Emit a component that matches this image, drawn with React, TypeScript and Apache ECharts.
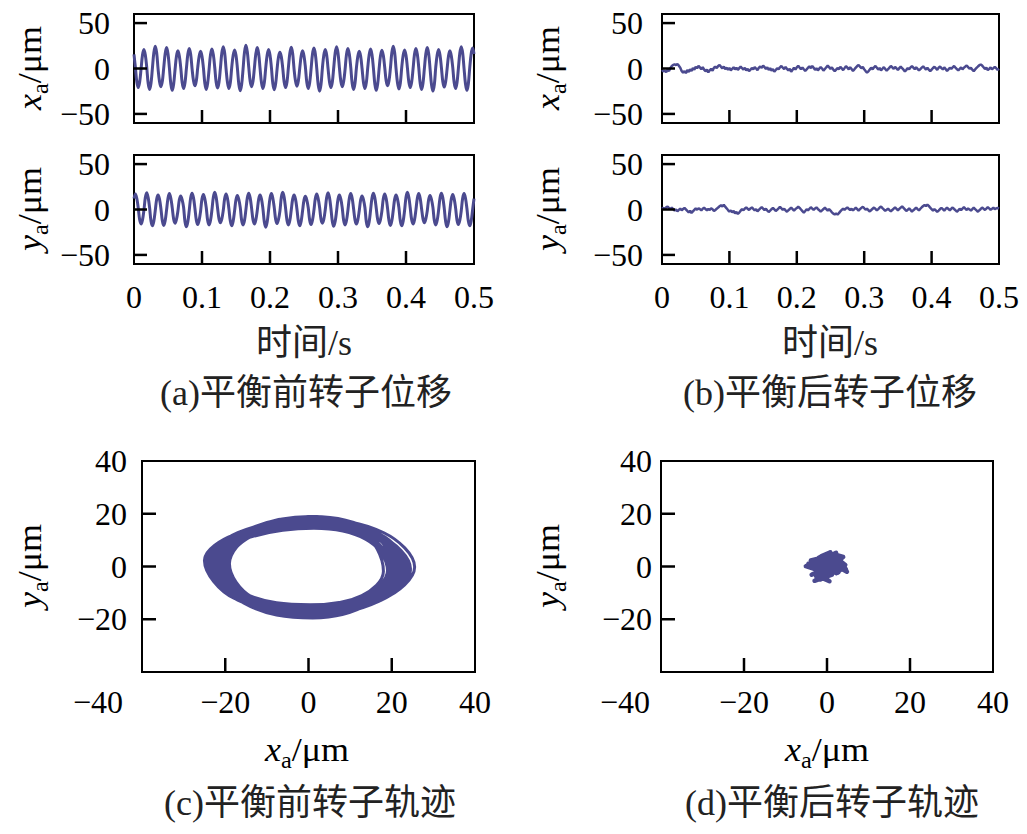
import React, { useEffect, useRef } from 'react';
import * as echarts from 'echarts';

// ---- data ----
// before balancing, sampled every 1/480 s (0 .. 0.5 s)
const DT_BEFORE = 1 / 480;
const X_BEFORE = [
  15.6, 0.8, -14.9, -21, -14.9, -0.5, 14.9, 21,
  14.9, 1.2, -16.3, -23, -16.3, 0.4, 17.4, 24.5,
  17.4, -0.6, -14.2, -20, -14.2, 0.9, 16.3, 23,
  16.3, 0.3, -17.0, -24, -17.0, -0.8, 13.8, 19.5,
  13.8, 1.0, -15.6, -22, -15.6, 0.2, 15.6, 22,
  15.6, -0.4, -13.5, -19, -13.5, 1.3, 13.5, 19,
  13.5, 0.6, -16.3, -23, -16.3, -0.9, 15.3, 21.5,
  15.3, 1.1, -15.3, -21.5, -15.3, 0.5, 17.0, 24,
  17.0, -0.7, -15.6, -22, -15.6, 1.4, 14.6, 20.5,
  14.6, 0.2, -17.4, -24.5, -17.4, -0.3, 18.1, 25.5,
  18.1, 1.5, -14.2, -20, -14.2, 0.7, 16.3, 23,
  16.3, -0.2, -15.6, -22, -15.6, 1.0, 14.9, 21,
  14.9, 0.9, -16.7, -23.5, -16.7, -0.6, 12.8, 18,
  12.8, 0.4, -14.9, -21, -14.9, 1.2, 16.7, 23.5,
  16.7, -0.9, -13.8, -19.5, -13.8, 0.3, 13.8, 19.5,
  13.8, 1.3, -15.6, -22, -15.6, -0.4, 16.0, 22.5,
  16.0, 0.1, -17.8, -25, -17.8, 0.8, 14.9, 21,
  14.9, -0.5, -14.9, -21, -14.9, 1.1, 17.0, 24,
  17.0, 0.7, -14.2, -20, -14.2, -1.0, 15.6, 22,
  15.6, 1.4, -16.3, -23, -16.3, 0.6, 13.5, 19,
  13.5, -0.3, -15.6, -22, -15.6, 0.9, 15.3, 21.5,
  15.3, 0.5, -17.0, -24, -17.0, -0.7, 14.2, 20,
  14.2, 1.0, -13.5, -19, -13.5, 0.4, 17.4, 24.5,
  17.4, -0.8, -16.0, -22.5, -16.0, 1.2, 14.6, 20.5,
  14.6, 0.6, -14.9, -21, -14.9, -0.2, 15.6, 22,
  15.6, 1.1, -16.3, -23, -16.3, 0.3, 16.3, 23,
  16.3, -0.4, -17.8, -25, -17.8, 1.4, 14.9, 21,
  14.9, 0.8, -14.6, -20.5, -14.6, -0.6, 13.8, 19.5,
  13.8, 1.2, -15.6, -22, -15.6, 0.5, 17.0, 24,
  17.0, -0.3, -17.0, -24, -17.0, 0.9, 16.0, 22.5,
  16.0,
];
const Y_BEFORE = [
  12.1, 17, 12.1, 1.6, -11.4, -16, -11.4, -0.8,
  13.1, 18.5, 13.1, 2.2, -12.8, -18, -12.8, -1.3,
  11.4, 16, 11.4, 0.9, -12.4, -17.5, -12.4, -0.4,
  12.4, 17.5, 12.4, 1.8, -10.7, -15, -10.7, -1.6,
  10.7, 15, 10.7, 2.5, -13.5, -19, -13.5, -0.9,
  12.8, 18, 12.8, 1.2, -11.7, -16.5, -11.7, -1.9,
  11.7, 16.5, 11.7, 2.0, -12.1, -17, -12.1, -0.6,
  13.5, 19, 13.5, 1.4, -10.3, -14.5, -10.3, -1.1,
  12.1, 17, 12.1, 0.7, -12.8, -18, -12.8, -1.5,
  11.0, 15.5, 11.0, 2.3, -12.1, -17, -12.1, -0.2,
  12.8, 18, 12.8, 1.5, -11.4, -16, -11.4, -1.2,
  11.4, 16, 11.4, 1.0, -13.8, -19.5, -13.8, -0.7,
  12.4, 17.5, 12.4, 2.1, -11.0, -15.5, -11.0, -1.8,
  13.5, 19, 13.5, 1.3, -12.1, -17, -12.1, -0.5,
  11.4, 16, 11.4, 0.6, -12.8, -18, -12.8, -1.4,
  10.3, 14.5, 10.3, 1.9, -11.7, -16.5, -11.7, -1.0,
  12.1, 17, 12.1, 2.4, -10.7, -15, -10.7, -0.3,
  13.1, 18.5, 13.1, 1.1, -13.1, -18.5, -13.1, -1.7,
  11.4, 16, 11.4, 1.7, -12.1, -17, -12.1, -0.8,
  12.4, 17.5, 12.4, 0.8, -11.4, -16, -11.4, -1.3,
  10.7, 15, 10.7, 2.2, -13.5, -19, -13.5, -0.6,
  12.8, 18, 12.8, 1.4, -11.0, -15.5, -11.0, -1.5,
  12.1, 17, 12.1, 1.0, -12.4, -17.5, -12.4, -0.9,
  11.4, 16, 11.4, 2.0, -12.8, -18, -12.8, -1.1,
  13.5, 19, 13.5, 1.6, -11.4, -16, -11.4, -0.4,
  12.4, 17.5, 12.4, 0.9, -10.3, -14.5, -10.3, -1.6,
  11.0, 15.5, 11.0, 2.3, -12.1, -17, -12.1, -1.0,
  12.8, 18, 12.8, 1.2, -13.5, -19, -13.5, -0.7,
  11.7, 16.5, 11.7, 1.8, -11.7, -16.5, -11.7, -1.4,
  12.4, 17.5, 12.4, 1.1, -12.8, -18, -12.8, -0.5,
  12.0,
];

// after balancing, sampled every 1/480 s (0 .. 0.5 s)
const DT_AFTER = 1 / 480;
const X_AFTER = [
  -1.5, -3.3, -2.2, -3.9, -1.2, -2.8, 0.6, 2.7, 4.0, 4.6,
  3.8, 4.8, 3.1, 0.9, -2.7, -4.6, -3.0, -5.1, -1.8, -3.7,
  -0.9, -2.6, 0.4, -1.3, 1.8, 0.3, 2.8, 1.2, -0.8, 1.5,
  -1.2, -3.1, -1.3, -4.2, -2.0, -0.3, -2.4, 0.8, 2.1, 0.4,
  2.7, 3.9, 1.8, 0.2, 2.2, -0.6, 1.0, -1.3, 0.6, -2.0,
  -0.3, 1.3, -1.0, 0.9, -1.6, 0.4, 2.1, 0.3, -1.2, 0.8,
  -2.1, -0.4, -3.0, -1.3, 0.6, -0.9, 1.6, 0.0, -1.8, 0.9,
  2.2, 0.6, 3.3, 1.5, -0.4, 1.2, -1.5, 0.3, -2.4, -0.8,
  -3.4, -1.6, 0.3, -1.0, 1.3, 2.7, 0.9, -0.6, 1.8, -0.4,
  -2.2, -0.3, -3.6, -1.5, 0.8, -1.2, 1.3, 3.0, 1.0, -0.9,
  1.2, -0.8, -2.7, -1.0, 0.9, 2.4, 0.4, 2.8, 0.8, -1.5,
  0.3, -2.0, -0.2, 1.6, 0.0, -2.4, -0.6, 1.3, 3.1, 1.5,
  -0.4, 1.2, -1.3, -3.0, -1.2, 0.6, -0.8, 1.9, 0.2, -1.8,
  0.4, 2.6, 0.9, -0.9, 1.3, -0.6, -2.6, -0.9, 1.0, 2.7,
  3.9, 2.1, 0.3, 1.6, -0.8, -2.8, -4.5, -3.1, -1.0, 0.9,
  -0.9, 1.3, 2.7, 0.8, -1.2, 0.6, -2.0, -0.3, 1.5, -0.6,
  -2.4, -0.8, 1.0, 2.8, 1.2, -0.4, 1.8, 0.2, -1.6, 0.4,
  2.1, 0.3, -1.3, -3.3, -1.5, 0.4, -0.9, 1.2, 2.6, 0.9,
  -0.8, 1.3, -0.4, -2.2, -0.6, 1.0, 2.4, 0.6, -1.2, 0.8,
  -1.3, -3.0, -1.2, 0.6, 1.9, 0.3, -1.5, 0.9, 2.2, 0.4,
  -1.0, 1.2, -0.6, -2.7, -0.9, 0.8, -0.4, 1.3, 2.7, 1.0,
  -0.6, -2.2, -0.4, 1.2, -0.9, 0.8, 2.1, 3.3, 1.5, -0.3,
  0.9, -1.3, -3.0, -1.0, 0.6, 2.2, 3.6, 4.4, 3.2, 1.3,
  -0.6, 0.9, -1.8, -0.4, 1.2, -0.9, 0.4, 1.8, 0.3, -1.5,
  -0.3,
];
const Y_AFTER = [
  0.8, 1.8, 0.4, 2.3, 3.3, 1.6, 0.5, 2.1, 0.3, -1.2,
  -0.1, -2.0, -0.5, 1.0, -0.8, 0.6, 1.7, 0.1, -1.6, -3.1,
  -1.4, -3.8, -2.1, -0.4, 1.2, -0.3, 1.4, 0.4, -1.0, 0.8,
  2.0, 0.5, -0.9, 0.6, -0.6, 1.3, 0.3, -1.7, -0.5, 0.9,
  2.1, 3.6, 4.6, 3.4, 5.2, 3.1, 1.3, -0.6, -2.3, -1.2,
  -3.0, -1.6, -4.4, -2.7, -4.9, -3.4, -1.3, 0.4, -0.8, 1.0,
  2.2, 0.8, -0.5, 1.2, 2.3, 0.6, -1.0, 0.5, -2.0, -0.4,
  1.2, 2.6, 1.0, -0.6, 0.8, -1.2, -2.7, -1.3, 0.3, 1.7,
  0.1, -1.6, -0.3, 1.2, 2.9, 1.4, -0.4, 0.9, -1.0, -2.5,
  -0.8, 0.6, 2.1, 0.5, -1.2, 0.4, 1.6, 3.1, 1.7, 0.0,
  -1.8, -3.4, -1.6, 0.3, -0.9, 0.8, 2.5, 1.0, -0.5, 1.2,
  2.3, 0.6, -0.8, -2.3, -0.9, 0.5, 2.0, 0.3, -1.3, 0.4,
  -1.2, -3.1, -4.5, -5.4, -4.3, -5.6, -4.0, -2.1, -0.5, 1.0,
  -0.4, 1.2, 2.3, 0.8, -0.6, 0.9, -1.0, 0.5, 2.0, 0.4,
  -1.2, 0.3, 1.8, 3.0, 1.4, -0.3, 1.0, -0.8, -2.2, -0.6,
  0.8, 2.2, 0.6, -1.0, 0.5, 2.1, 3.3, 1.6, 0.0, -1.4,
  -0.3, 1.0, -0.6, -2.1, -0.5, 0.9, 2.3, 0.8, -0.9, 0.6,
  2.1, 3.5, 1.8, 0.1, -1.6, -0.4, 1.2, -0.5, -2.3, -0.8,
  0.6, 2.2, 0.5, -1.0, 0.8, 2.5, 3.9, 5.0, 3.8, 5.4,
  4.0, 2.0, 0.3, -1.3, 0.4, -1.0, -2.6, -1.2, 0.5, 1.8,
  0.4, -1.2, 0.6, 2.1, 0.5, -0.9, 0.8, 2.2, 0.6, -0.8,
  -2.5, -1.0, 0.8, -0.6, 1.0, 2.5, 0.9, -0.5, 1.2, 0.1,
  -1.3, 0.4, 2.0, 0.5, -1.0, -2.5, -0.8, 0.6, 2.1, 0.9,
  -0.5, 1.0, 2.5, 1.2, -0.3, 0.8, 2.0, 0.5, 1.2, 1.7,
  1.0,
];

// ---- tick values ----
const TIME_TICKS = [0.1, 0.2, 0.3, 0.4];
const TIME_LABELS = [0, 0.1, 0.2, 0.3, 0.4, 0.5];
const DISP_TICKS = [-50, 0, 50];
const ORBIT_TICKS = [-20, 0, 20];
const ORBIT_X_LABELS = [-40, -20, 0, 20, 40];
const ORBIT_Y_LABELS = [-20, 0, 20, 40];

// ---- texts ----
const TIME_NAME = '时间/s';
const TITLES = ['(a)平衡前转子位移', '(b)平衡后转子位移', '(c)平衡前转子轨迹', '(d)平衡后转子轨迹'];

const LINE_COLOR = '#4b4a8f';
const FONT = "Liberation Serif, Times New Roman, serif";
const CJK_FONT = "Liberation Serif, Noto Sans CJK SC, serif";
const LABEL_SIZE = 32;

const minusFmt = (v: number) => (v < 0 ? '\u2212' + Math.abs(v) : String(v));
const timeFmt = (v: number) => (Math.abs(v) < 1e-9 ? '0' : v.toFixed(1));

const labelBase = { fontSize: LABEL_SIZE, fontFamily: FONT, color: '#000' };
const noLine = () => ({ show: false, onZero: false });

function timeXAxis(gridIndex: number, showLabels: boolean) {
  return {
    type: 'value', gridIndex, min: 0, max: 0.5,
    axisLine: noLine(), splitLine: { show: false }, axisTick: { show: false },
    axisLabel: { show: showLabels, customValues: TIME_LABELS, margin: 17, ...labelBase, formatter: timeFmt },
  };
}
function dispYAxis(gridIndex: number, margin: number) {
  return {
    type: 'value', gridIndex, min: -60, max: 60,
    axisLine: noLine(), splitLine: { show: false }, axisTick: { show: false },
    axisLabel: { show: true, customValues: DISP_TICKS, margin, ...labelBase, formatter: minusFmt },
  };
}
function orbitXAxis(gridIndex: number, shift: number) {
  return {
    type: 'value', gridIndex, min: -40, max: 40,
    axisLine: noLine(), splitLine: { show: false }, axisTick: { show: false },
    axisLabel: {
      show: true, customValues: ORBIT_X_LABELS, showMinLabel: true, showMaxLabel: true, margin: 14, ...labelBase,
      formatter: (v: number) => (v === -40 ? '{sh|' + minusFmt(v) + '}' : minusFmt(v)),
      rich: { sh: { ...labelBase, padding: [0, shift, 0, 0] } },
    },
  };
}
function orbitYAxis(gridIndex: number, margin: number) {
  return {
    type: 'value', gridIndex, min: -40, max: 40,
    axisLine: noLine(), splitLine: { show: false }, axisTick: { show: false },
    axisLabel: { show: true, customValues: ORBIT_Y_LABELS, showMaxLabel: true, margin, ...labelBase, formatter: minusFmt },
  };
}

// inward ticks drawn with the axes' own scales (api.coord)
function tickSeries(index: number, xTicks: number[], yTicks: number[], xMin: number, yMin: number, len: number) {
  const data = xTicks.map((v) => [v, yMin, 0]).concat(yTicks.map((v) => [xMin, v, 1]));
  return {
    type: 'custom', xAxisIndex: index, yAxisIndex: index, data, silent: true, z: 10,
    renderItem: (_params: any, api: any) => {
      const p = api.coord([api.value(0), api.value(1)]);
      const dir = api.value(2);
      const shape = dir === 0
        ? { x1: p[0], y1: p[1], x2: p[0], y2: p[1] - len }
        : { x1: p[0], y1: p[1], x2: p[0] + len, y2: p[1] };
      return { type: 'line', shape, style: { stroke: '#000', lineWidth: 2.5 } };
    },
  };
}

const nameRich = {
  i: { fontFamily: FONT, fontStyle: 'italic', fontSize: 34, fill: '#000' },
  s: { fontFamily: FONT, fontSize: 23, fill: '#000', padding: [20, 0, 0, 0] },
  n: { fontFamily: FONT, fontSize: 34, fill: '#000' },
};
function varName(v: string, x: number, y: number, rotated: boolean) {
  return {
    type: 'text', x, y, rotation: rotated ? Math.PI / 2 : 0, scaleX: 1.06, silent: true,
    style: { text: '{i|' + v + '}{s|a}{n|/μm}', rich: nameRich, align: 'center', verticalAlign: 'middle' },
  };
}
function plainText(text: string, x: number, y: number, size: number) {
  return {
    type: 'text', x, y, silent: true,
    style: { text, fontFamily: CJK_FONT, fontSize: size, fill: '#222', align: 'center', verticalAlign: 'middle' },
  };
}

const timeData = (vals: number[], dt: number) => vals.map((v, i) => [i * dt, v]);
const orbitData = (xs: number[], ys: number[]) => xs.map((x, i) => [x, ys[i]]);

export default function App() {
  const ref = useRef<HTMLDivElement>(null);
  useEffect(() => {
    if (!ref.current) return;
    const chart = echarts.init(ref.current, undefined, { renderer: 'svg' });
    const gridBase = { show: true, borderColor: '#000', borderWidth: 2, backgroundColor: 'transparent', containLabel: false };
    const option: any = {
      animation: false,
      backgroundColor: '#fff',
      grid: [
        { ...gridBase, left: 134, top: 14, width: 340, height: 109 },
        { ...gridBase, left: 134, top: 155, width: 340, height: 109 },
        { ...gridBase, left: 662, top: 14, width: 337, height: 109 },
        { ...gridBase, left: 662, top: 155, width: 337, height: 109 },
        { ...gridBase, left: 142, top: 461, width: 333, height: 211 },
        { ...gridBase, left: 661, top: 461, width: 332, height: 211 },
      ],
      xAxis: [
        timeXAxis(0, false), timeXAxis(1, true), timeXAxis(2, false), timeXAxis(3, true),
        orbitXAxis(4, 88), orbitXAxis(5, 72),
      ],
      yAxis: [
        dispYAxis(0, 24), dispYAxis(1, 24), dispYAxis(2, 19), dispYAxis(3, 19),
        orbitYAxis(4, 15), orbitYAxis(5, 9),
      ],
      series: [
        { type: 'line', xAxisIndex: 0, yAxisIndex: 0, data: timeData(X_BEFORE, DT_BEFORE), showSymbol: false, smooth: 0.37, lineStyle: { color: LINE_COLOR, width: 3 } },
        { type: 'line', xAxisIndex: 1, yAxisIndex: 1, data: timeData(Y_BEFORE, DT_BEFORE), showSymbol: false, smooth: 0.37, lineStyle: { color: LINE_COLOR, width: 3 } },
        { type: 'line', xAxisIndex: 2, yAxisIndex: 2, data: timeData(X_AFTER, DT_AFTER), showSymbol: false, smooth: false, lineStyle: { color: LINE_COLOR, width: 2.5 } },
        { type: 'line', xAxisIndex: 3, yAxisIndex: 3, data: timeData(Y_AFTER, DT_AFTER), showSymbol: false, smooth: false, lineStyle: { color: LINE_COLOR, width: 2.5 } },
        { type: 'line', xAxisIndex: 4, yAxisIndex: 4, data: orbitData(X_BEFORE, Y_BEFORE), showSymbol: false, smooth: 0.37, lineStyle: { color: LINE_COLOR, width: 3 } },
        { type: 'line', xAxisIndex: 5, yAxisIndex: 5, data: orbitData(X_AFTER, Y_AFTER), showSymbol: false, smooth: false, lineStyle: { color: LINE_COLOR, width: 4.5, join: 'round' } },
        tickSeries(0, TIME_TICKS, DISP_TICKS, 0, -60, 13),
        tickSeries(1, TIME_TICKS, DISP_TICKS, 0, -60, 13),
        tickSeries(2, TIME_TICKS, DISP_TICKS, 0, -60, 13),
        tickSeries(3, TIME_TICKS, DISP_TICKS, 0, -60, 13),
        tickSeries(4, ORBIT_TICKS, ORBIT_TICKS, -40, -40, 14),
        tickSeries(5, ORBIT_TICKS, ORBIT_TICKS, -40, -40, 14),
      ],
      graphic: [
        varName('x', 30, 68, true), varName('y', 30, 209, true),
        varName('x', 548, 68, true), varName('y', 548, 209, true),
        varName('y', 30, 566, true), varName('y', 548, 566, true),
        plainText(TIME_NAME, 304, 343, 36), plainText(TIME_NAME, 830, 343, 36),
        plainText(TITLES[0], 306, 393, 36), plainText(TITLES[1], 830, 393, 36),
        varName('x', 307, 750, false), varName('x', 827, 750, false),
        plainText(TITLES[2], 310, 803, 36), plainText(TITLES[3], 832, 803, 36),
      ],
    };
    chart.setOption(option);
    return () => chart.dispose();
  }, []);
  return <div ref={ref} style={{ position: 'fixed', left: 0, top: 0, width: 1027, height: 834, background: '#fff' }} />;
}
